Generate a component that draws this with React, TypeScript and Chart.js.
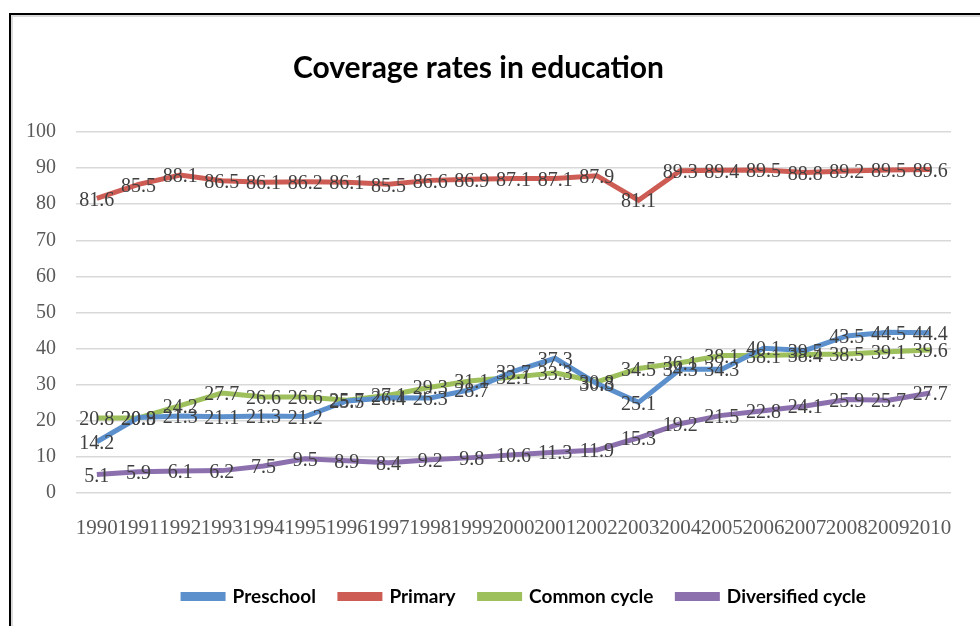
import React, { useEffect, useRef } from "react";
import { Chart, registerables } from "chart.js";

Chart.register(...registerables);

const years = ["1990", "1991", "1992", "1993", "1994", "1995", "1996", "1997", "1998", "1999", "2000", "2001", "2002", "2003", "2004", "2005", "2006", "2007", "2008", "2009", "2010"];
const preschool = [14.2, 20.9, 21.3, 21.1, 21.3, 21.2, 25.5, 26.4, 26.3, 28.7, 33.7, 37.3, 30.3, 25.1, 34.3, 34.3, 40.1, 39.5, 43.5, 44.5, 44.4];
const primary = [81.6, 85.5, 88.1, 86.5, 86.1, 86.2, 86.1, 85.5, 86.6, 86.9, 87.1, 87.1, 87.9, 81.1, 89.3, 89.4, 89.5, 88.8, 89.2, 89.5, 89.6];
const commonCycle = [20.8, 20.8, 24.2, 27.7, 26.6, 26.6, 25.7, 27.1, 29.3, 31.1, 32.1, 33.3, 30.8, 34.5, 36.1, 38.1, 38.1, 38.4, 38.5, 39.1, 39.6];
const diversified = [5.1, 5.9, 6.1, 6.2, 7.5, 9.5, 8.9, 8.4, 9.2, 9.8, 10.6, 11.3, 11.9, 15.3, 19.2, 21.5, 22.8, 24.1, 25.9, 25.7, 27.7];

const seriesNames = ["Preschool", "Primary", "Common cycle", "Diversified cycle"];
const seriesColors = ["#5B90CC", "#CD5C55", "#9DC05C", "#8C70AE"];

const valueLabels = {
  id: "valueLabels",
  afterDatasetsDraw(chart: any) {
    const ctx = chart.ctx;
    ctx.save();
    ctx.font = '20px "Liberation Serif"';
    ctx.fillStyle = "#404040";
    ctx.textAlign = "center";
    ctx.textBaseline = "middle";
    chart.data.datasets.forEach((ds: any, i: number) => {
      const meta = chart.getDatasetMeta(i);
      meta.data.forEach((el: any, j: number) => {
        ctx.fillText(Number(ds.data[j]).toFixed(1), el.x, el.y + 2);
      });
    });
    ctx.restore();
  },
};

const boxShift = {
  id: "boxShift",
  afterLayout(chart: any) {
    const lg = chart.legend;
    if (lg) {
      lg.left += 44;
      lg.right += 44;
    }
    const tt = chart.titleBlock;
    if (tt) {
      tt.left -= 2;
      tt.right -= 2;
    }
  },
};

export default function App() {
  const ref = useRef<HTMLCanvasElement>(null);
  useEffect(() => {
    if (!ref.current) return;
    const data = [preschool, primary, commonCycle, diversified];
    const chart = new Chart(ref.current, {
      type: "line",
      data: {
        labels: years,
        datasets: seriesNames.map((name, i) => ({
          label: name,
          data: data[i],
          borderColor: seriesColors[i],
          backgroundColor: seriesColors[i],
          borderWidth: 5,
          pointRadius: 0,
          tension: 0,
          fill: false,
        })),
      },
      options: {
        animation: false,
        responsive: false,
        layout: { padding: { left: 10, right: 29, top: 0, bottom: 10 } },
        plugins: {
          title: {
            display: true,
            text: "Coverage rates in education",
            color: "#000",
            font: { family: "Lato", weight: "bold", size: 30 },
            padding: { top: 50, bottom: 46 },
          },
          legend: {
            position: "bottom",
            labels: {
              color: "#000",
              font: { family: "Lato", weight: "bold", size: 19 },
              boxWidth: 40,
              boxHeight: 4,
              padding: 24,
            },
          },
          tooltip: { enabled: false },
        },
        scales: {
          x: {
            offset: true,
            grid: { display: false, drawTicks: false },
            border: { display: false },
            ticks: {
              autoSkip: false,
              maxRotation: 0,
              minRotation: 0,
              color: "#595959",
              font: { family: "Liberation Serif", size: 21, lineHeight: "78px" },
              padding: -4,
            },
          },
          y: {
            min: 0,
            max: 100,
            afterFit: (s: any) => {
              s.width = 66;
            },
            grid: { color: "#D9D9D9", lineWidth: 1.5, drawTicks: false },
            border: { display: false },
            ticks: {
              stepSize: 10,
              color: "#595959",
              font: { family: "Liberation Serif", size: 20 },
              padding: 20,
            },
          },
        },
      },
      plugins: [valueLabels, boxShift],
    } as any);
    return () => chart.destroy();
  }, []);

  return (
    <div style={{ position: "fixed", left: 0, top: 0, width: 980, height: 626, overflow: "hidden", background: "#fff" }}>
      <div
        style={{
          position: "absolute",
          left: 9,
          top: 13,
          width: 1000,
          height: 700,
          borderLeft: "2px solid #000",
          borderTop: "2px solid #000",
          boxShadow: "inset 2px 2px 0 #DADADA",
        }}
      />
      <canvas ref={ref} width={980} height={626} style={{ position: "absolute", left: 0, top: 0, width: 980, height: 626 }} />
    </div>
  );
}
